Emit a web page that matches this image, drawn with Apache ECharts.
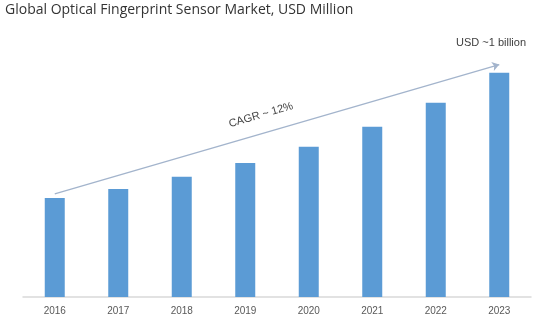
<!DOCTYPE html>
<html>
<head>
<meta charset="utf-8">
<script src="https://cdn.jsdelivr.net/npm/echarts@6/dist/echarts.min.js"></script>
<style>html,body{margin:0;padding:0;background:#fff;}#c{width:533px;height:332px;}</style>
</head>
<body>
<div id="c"></div>
<script>
const categories = ['2016','2017','2018','2019','2020','2021','2022','2023'];
const marketValues = [442, 482, 536, 598, 670, 759, 866, 1000];
const trendStart = ['2016', 460];
const trendEnd = ['2023', 1037];
const titleText = 'Global Optical Fingerprint Sensor Market, USD Million';
const cagrText = 'CAGR ~ 12%';
const endText = 'USD ~1 billion';

const chart = echarts.init(document.getElementById('c'), null, {renderer: 'canvas'});
chart.setOption({
  backgroundColor: '#ffffff',
  animation: false,
  title: {
    text: titleText,
    left: 0,
    top: -2,
    textStyle: {fontFamily: 'Open Sans', fontSize: 14, fontWeight: 'normal', color: '#333333'}
  },
  grid: {left: 23, right: 2, top: 28, bottom: 35, containLabel: false},
  xAxis: {
    type: 'category',
    data: categories,
    axisLine: {show: true, lineStyle: {color: '#d9d9d9', width: 1.5}},
    axisTick: {show: false},
    axisLabel: {color: '#595959', fontSize: 10, fontFamily: 'Liberation Sans', margin: 9}
  },
  yAxis: {
    type: 'value', min: 0, max: 1200, show: false,
    splitLine: {show: false}
  },
  graphic: [
    {type: 'text', left: 456, top: 37, style: {text: endText, fill: '#404040', font: '11px "Liberation Sans"'}},
    {type: 'text', x: 261, y: 115, rotation: 16.2 * Math.PI / 180,
     style: {text: cagrText, fill: '#404040', font: '11px "Liberation Sans"', align: 'center', verticalAlign: 'middle'}}
  ],
  series: [{
    type: 'bar',
    data: marketValues,
    barWidth: 20,
    itemStyle: {color: '#5b9bd5'},
    markLine: {
      silent: true,
      symbol: ['none', 'arrow'],
      symbolSize: 7,
      label: {show: false},
      lineStyle: {color: '#a3b4cc', width: 1.3, type: 'solid'},
      data: [[{coord: trendStart}, {coord: trendEnd}]]
    }
  }]
});
</script>
</body>
</html>
